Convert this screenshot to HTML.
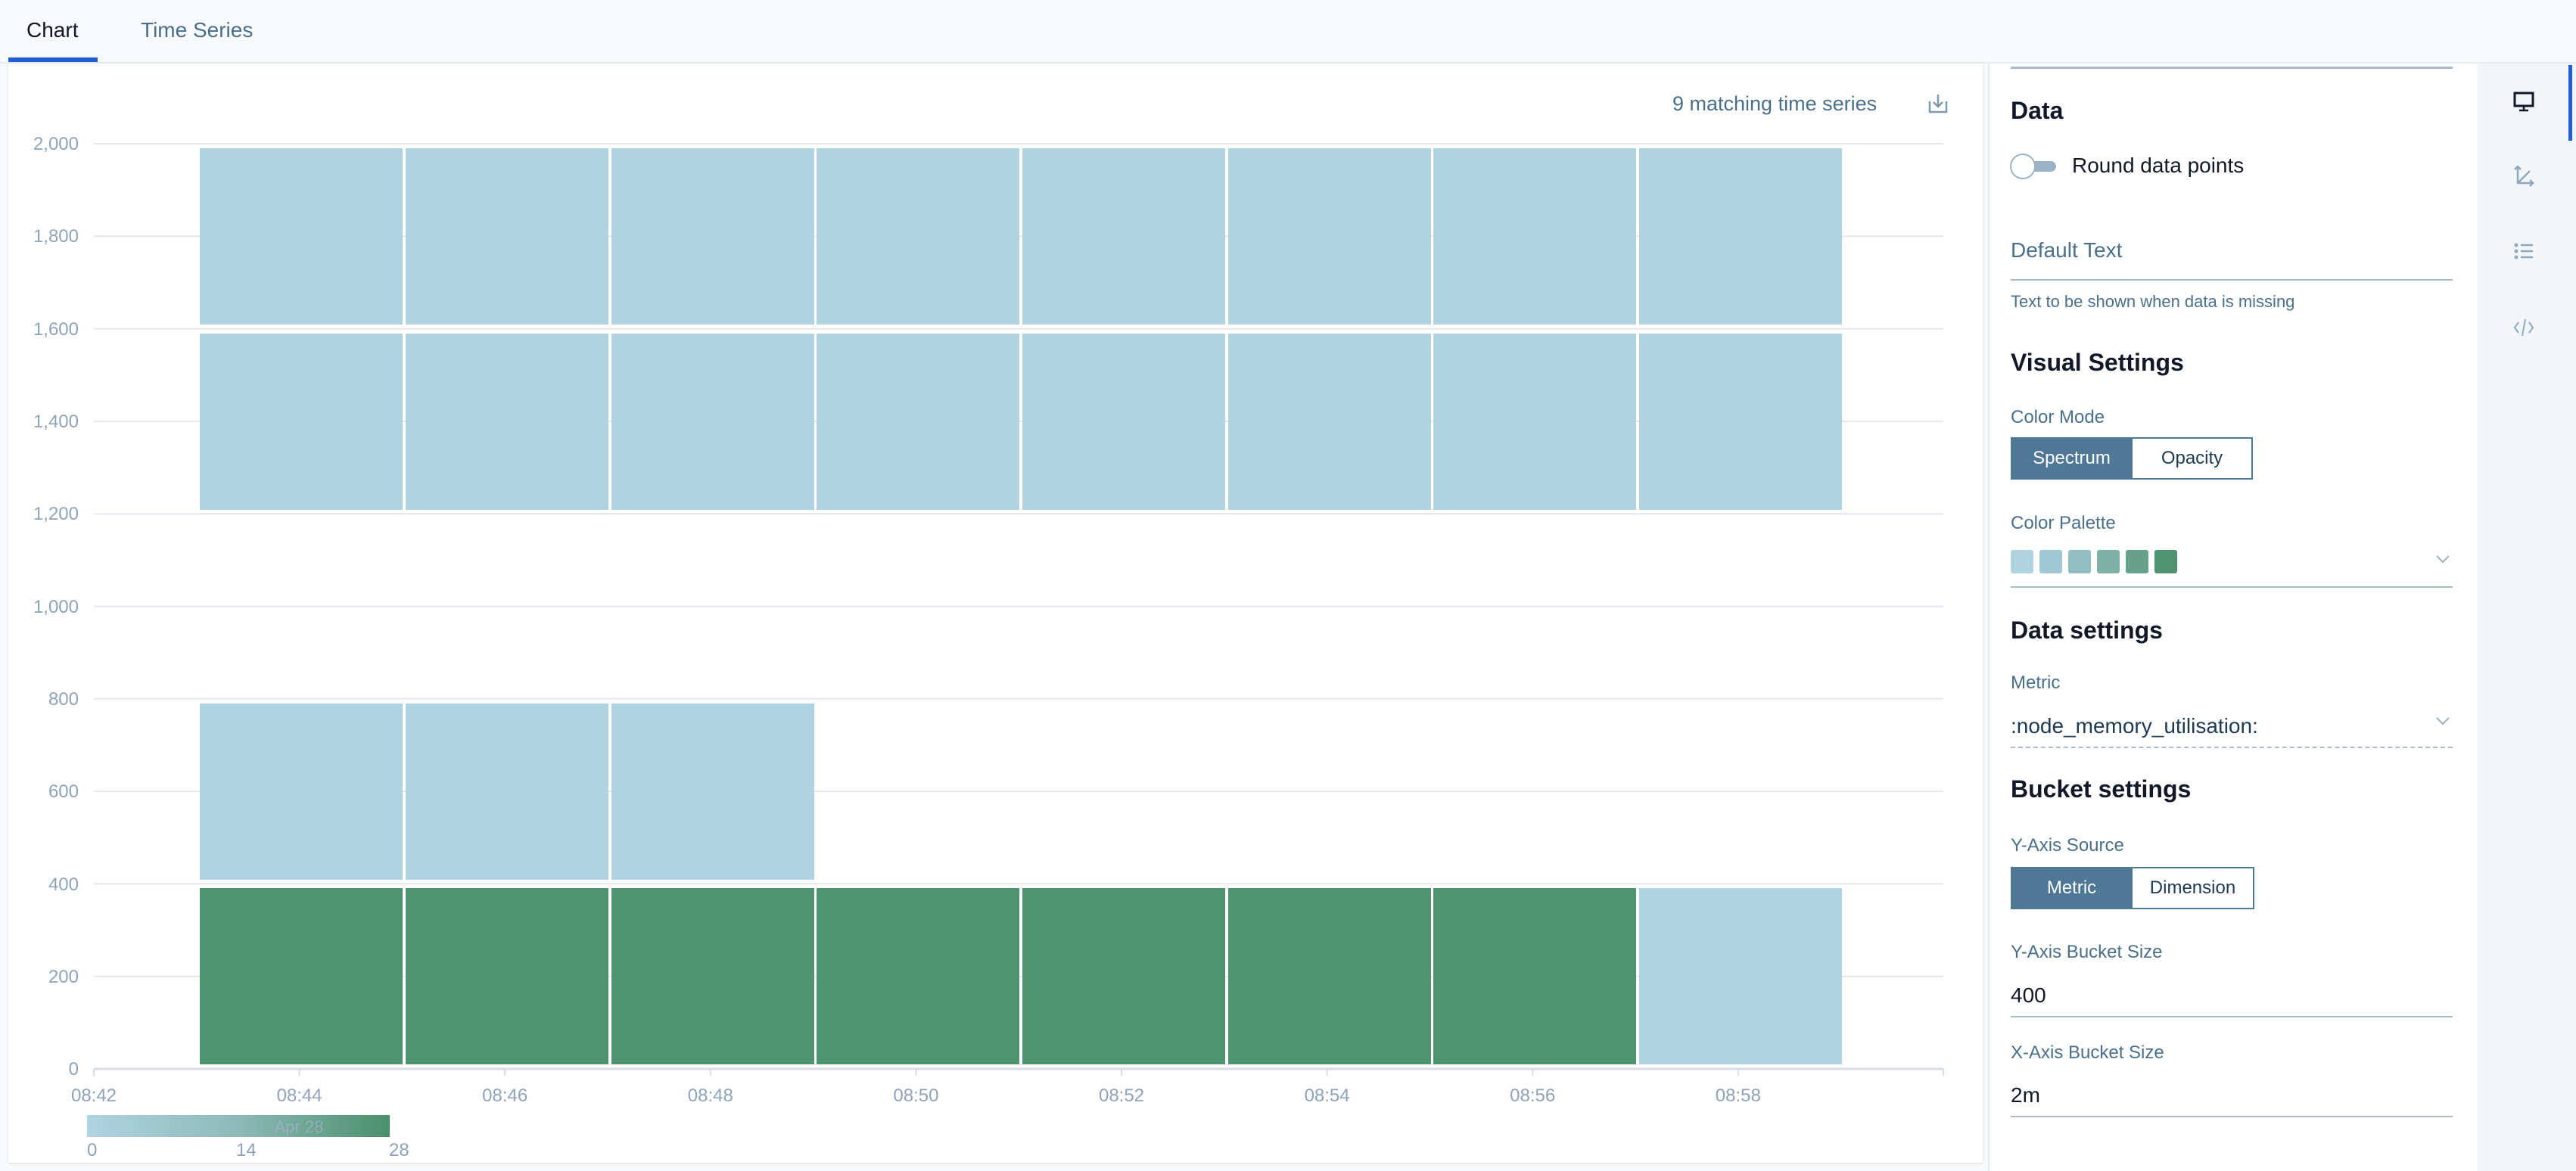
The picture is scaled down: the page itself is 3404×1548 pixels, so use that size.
<!DOCTYPE html>
<html><head><meta charset="utf-8"><style>
*{margin:0;padding:0;box-sizing:border-box}
body{width:3404px;height:1548px;background:#f8f9fa;font-family:"Liberation Sans",sans-serif;position:relative;overflow:hidden}
.a{position:absolute;white-space:nowrap}
.h{font-weight:bold;font-size:32px;color:#111827}
.lbl{font-size:24px;color:#4a6f8a}
.btn{position:absolute;height:56px;border:2px solid #4f7896;font-size:24px;display:flex;align-items:center;justify-content:center;color:#1e3a52}
.on{background:#4f7896;color:#fff}
.line{position:absolute;height:2px;background:#a9bccd}
</style></head><body>
<div class="a" style="left:35px;top:24px;font-size:28px;color:#111827">Chart</div>
<div class="a" style="left:186px;top:24px;font-size:28px;color:#4a6f8a">Time Series</div>
<div class="a" style="left:11px;top:76px;width:118px;height:6px;background:#1f5fd6"></div>
<div class="a" style="left:0;top:82px;width:3404px;height:2px;background:#e6ebf0"></div>
<div class="a" style="left:11px;top:84px;width:2609px;height:1453px;background:#fff;box-shadow:0 1px 3px rgba(0,0,0,.12)"></div>
<div class="a" style="left:2627px;top:84px;width:647px;height:1464px;background:#fff;border-left:2px solid #e6ebf0"></div>
<div class="a" style="left:3274px;top:84px;width:130px;height:1464px;background:#f3f6f9"></div>
<div class="a" style="left:3394px;top:86px;width:5px;height:100px;background:#1f5fd6"></div>
<div class="a" style="left:2210px;top:122px;font-size:27px;color:#4a6f8a">9 matching time series</div>
<svg class="a" style="left:2546px;top:122px" width="30" height="30" viewBox="0 0 30 30"><path d="M4 12v14h22V12M15 3v15M9 13l6 6 6-6" fill="none" stroke="#7f9ab0" stroke-width="2.5"/></svg>
<svg class="a" style="left:0;top:0" width="2620" height="1548">
<g stroke="#e3e8ee" stroke-width="2">
<line x1="124" y1="190" x2="2568" y2="190"/><line x1="124" y1="312.3" x2="2568" y2="312.3"/><line x1="124" y1="434.6" x2="2568" y2="434.6"/><line x1="124" y1="556.9" x2="2568" y2="556.9"/><line x1="124" y1="679.2" x2="2568" y2="679.2"/><line x1="124" y1="801.5" x2="2568" y2="801.5"/><line x1="124" y1="923.8" x2="2568" y2="923.8"/><line x1="124" y1="1046.1" x2="2568" y2="1046.1"/><line x1="124" y1="1168.4" x2="2568" y2="1168.4"/><line x1="124" y1="1290.7" x2="2568" y2="1290.7"/>
<line x1="124" y1="1413" x2="2568" y2="1413" stroke="#d5dce4" stroke-width="3"/>
</g>
<g stroke="#d5dce4" stroke-width="2">
<line x1="124" y1="1413" x2="124" y2="1422"/><line x1="395.6" y1="1413" x2="395.6" y2="1422"/><line x1="667.2" y1="1413" x2="667.2" y2="1422"/><line x1="938.8" y1="1413" x2="938.8" y2="1422"/><line x1="1210.4" y1="1413" x2="1210.4" y2="1422"/><line x1="1482" y1="1413" x2="1482" y2="1422"/><line x1="1753.6" y1="1413" x2="1753.6" y2="1422"/><line x1="2025.2" y1="1413" x2="2025.2" y2="1422"/><line x1="2296.8" y1="1413" x2="2296.8" y2="1422"/><line x1="2568" y1="1413" x2="2568" y2="1422"/>
</g>
<g font-family="Liberation Sans, sans-serif" font-size="24" fill="#8fa3b8" text-anchor="end">
<text x="104" y="198">2,000</text><text x="104" y="320">1,800</text><text x="104" y="443">1,600</text><text x="104" y="565">1,400</text><text x="104" y="687">1,200</text><text x="104" y="810">1,000</text><text x="104" y="932">800</text><text x="104" y="1054">600</text><text x="104" y="1177">400</text><text x="104" y="1299">200</text><text x="104" y="1421">0</text>
</g>
<g font-family="Liberation Sans, sans-serif" font-size="24" fill="#8fa3b8" text-anchor="middle">
<text x="124" y="1456">08:42</text><text x="395.6" y="1456">08:44</text><text x="667.2" y="1456">08:46</text><text x="938.8" y="1456">08:48</text><text x="1210.4" y="1456">08:50</text><text x="1482" y="1456">08:52</text><text x="1753.6" y="1456">08:54</text><text x="2025.2" y="1456">08:56</text><text x="2296.8" y="1456">08:58</text>
</g>
<g fill="#b0d3e2">
<rect x="264" y="196" width="268" height="233"/><rect x="536" y="196" width="268" height="233"/><rect x="808" y="196" width="268" height="233"/><rect x="1079" y="196" width="268" height="233"/><rect x="1351" y="196" width="268" height="233"/><rect x="1623" y="196" width="268" height="233"/><rect x="1894" y="196" width="268" height="233"/><rect x="2166" y="196" width="268" height="233"/>
<rect x="264" y="441" width="268" height="233"/><rect x="536" y="441" width="268" height="233"/><rect x="808" y="441" width="268" height="233"/><rect x="1079" y="441" width="268" height="233"/><rect x="1351" y="441" width="268" height="233"/><rect x="1623" y="441" width="268" height="233"/><rect x="1894" y="441" width="268" height="233"/><rect x="2166" y="441" width="268" height="233"/>
<rect x="264" y="930" width="268" height="233"/><rect x="536" y="930" width="268" height="233"/><rect x="808" y="930" width="268" height="233"/>
<rect x="2166" y="1174" width="268" height="233"/>
</g>
<g fill="#4e9270">
<rect x="264" y="1174" width="268" height="233"/><rect x="536" y="1174" width="268" height="233"/><rect x="808" y="1174" width="268" height="233"/><rect x="1079" y="1174" width="268" height="233"/><rect x="1351" y="1174" width="268" height="233"/><rect x="1623" y="1174" width="268" height="233"/><rect x="1894" y="1174" width="268" height="233"/>
</g>
<defs><linearGradient id="g"><stop offset="0" stop-color="#b0d3e2"/><stop offset=".5" stop-color="#8cbab8"/><stop offset="1" stop-color="#4a8f6c"/></linearGradient></defs>
<rect x="115" y="1474" width="400" height="29" fill="url(#g)"/>
<text x="395" y="1497" font-family="Liberation Sans, sans-serif" font-size="22" fill="#a6b2c9" text-anchor="middle" opacity=".7">Apr 28</text>
<g font-family="Liberation Sans, sans-serif" font-size="24" fill="#8fa3b8">
<text x="115" y="1528">0</text><text x="312" y="1528">14</text><text x="514" y="1528">28</text>
</g>
</svg>

<div class="line" style="left:2657px;top:88px;width:584px;height:3px"></div>
<div class="a h" style="left:2657px;top:128px">Data</div>
<svg class="a" style="left:2655px;top:203px" width="70" height="36"><rect x="20" y="10" width="42" height="14" rx="7" fill="#9cb3c6"/><circle cx="18" cy="17" r="16" fill="#fff" stroke="#9cb3c6" stroke-width="2"/></svg>
<div class="a" style="left:2738px;top:203px;font-size:28px;color:#111827">Round data points</div>
<div class="a" style="left:2657px;top:315px;font-size:28px;color:#4a6f8a">Default Text</div>
<div class="line" style="left:2657px;top:369px;width:584px"></div>
<div class="a lbl" style="left:2657px;top:386px;font-size:22px">Text to be shown when data is missing</div>
<div class="a h" style="left:2657px;top:461px">Visual Settings</div>
<div class="a lbl" style="left:2657px;top:538px">Color Mode</div>
<div class="btn on" style="left:2657px;top:578px;width:161px">Spectrum</div>
<div class="btn" style="left:2816px;top:578px;width:161px">Opacity</div>
<div class="a lbl" style="left:2657px;top:678px">Color Palette</div>
<div class="a" style="left:2657px;top:727px;width:30px;height:31px;background:#b0d3e2;border-radius:3px"></div>
<div class="a" style="left:2695px;top:727px;width:30px;height:31px;background:#a0c8d4;border-radius:3px"></div>
<div class="a" style="left:2733px;top:727px;width:30px;height:31px;background:#92bec2;border-radius:3px"></div>
<div class="a" style="left:2771px;top:727px;width:30px;height:31px;background:#7fb0a8;border-radius:3px"></div>
<div class="a" style="left:2809px;top:727px;width:30px;height:31px;background:#67a18b;border-radius:3px"></div>
<div class="a" style="left:2847px;top:727px;width:30px;height:31px;background:#4e9270;border-radius:3px"></div>
<svg class="a" style="left:3218px;top:732px" width="20" height="14"><path d="M2 3l8 8 8-8" fill="none" stroke="#9cb3c6" stroke-width="2"/></svg>
<div class="line" style="left:2657px;top:775px;width:584px"></div>
<div class="a h" style="left:2657px;top:815px">Data settings</div>
<div class="a lbl" style="left:2657px;top:889px">Metric</div>
<div class="a" style="left:2657px;top:944px;font-size:28px;color:#1e3a52">:node_memory_utilisation:</div>
<svg class="a" style="left:3218px;top:946px" width="20" height="14"><path d="M2 3l8 8 8-8" fill="none" stroke="#9cb3c6" stroke-width="2"/></svg>
<div class="a" style="left:2657px;top:987px;width:584px;border-top:2px dashed #a9bccd"></div>
<div class="a h" style="left:2657px;top:1025px">Bucket settings</div>
<div class="a lbl" style="left:2657px;top:1104px">Y-Axis Source</div>
<div class="btn on" style="left:2657px;top:1146px;width:161px">Metric</div>
<div class="btn" style="left:2816px;top:1146px;width:163px">Dimension</div>
<div class="a lbl" style="left:2657px;top:1245px">Y-Axis Bucket Size</div>
<div class="a" style="left:2657px;top:1300px;font-size:28px;color:#111827">400</div>
<div class="line" style="left:2657px;top:1343px;width:584px"></div>
<div class="a lbl" style="left:2657px;top:1378px">X-Axis Bucket Size</div>
<div class="a" style="left:2657px;top:1432px;font-size:28px;color:#111827">2m</div>
<div class="line" style="left:2657px;top:1475px;width:584px"></div>

<svg class="a" style="left:3320px;top:120px" width="30" height="30"><rect x="3" y="3" width="24" height="17" fill="none" stroke="#111827" stroke-width="3"/><path d="M15 20v5M9 26h12" stroke="#111827" stroke-width="2.5"/></svg>
<svg class="a" style="left:3320px;top:218px" width="30" height="30"><path d="M7 2v22h20M7 24L23 8M3 6l4-4 4 4M23 20l4 4-4 4" fill="none" stroke="#8fa8c0" stroke-width="2.5"/></svg>
<svg class="a" style="left:3320px;top:318px" width="30" height="30"><path d="M11 6h16M11 14h16M11 22h16" stroke="#8fa8c0" stroke-width="2.5"/><circle cx="5" cy="6" r="2.5" fill="#8fa8c0"/><circle cx="5" cy="14" r="2.5" fill="#8fa8c0"/><circle cx="5" cy="22" r="2.5" fill="#8fa8c0"/></svg>
<svg class="a" style="left:3320px;top:418px" width="30" height="30"><path d="M8 8l-5 7 5 7M22 8l5 7-5 7M17 4l-4 22" fill="none" stroke="#8fa8c0" stroke-width="2"/></svg>
</body></html>
